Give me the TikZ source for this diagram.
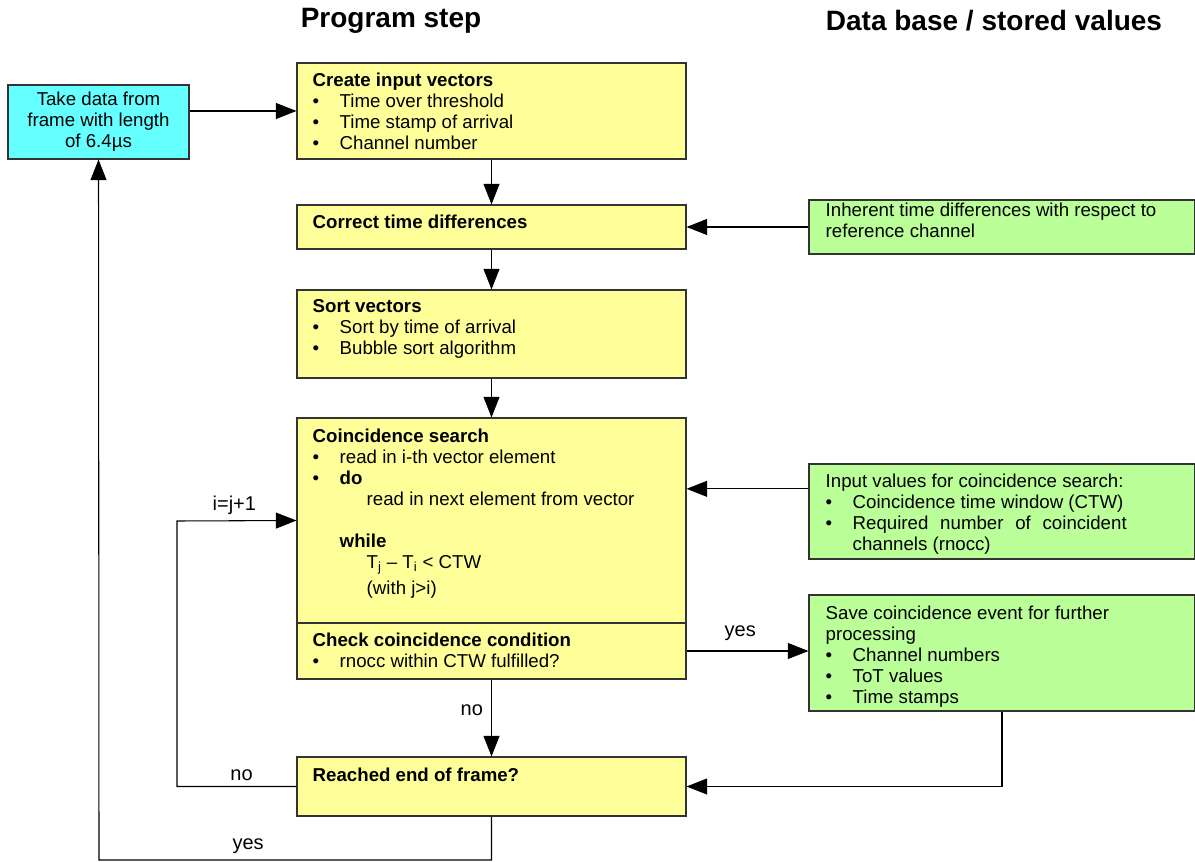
\documentclass[tikz,border=0pt]{standalone}
\usepackage{fontspec}
\setmainfont{Liberation Sans}
\usetikzlibrary{arrows.meta,positioning,fit}

\definecolor{stepfill}{HTML}{FFFF99}
\definecolor{framefill}{HTML}{66FFFF}
\definecolor{storefill}{HTML}{BBFF99}
\newcommand{\itm}{\makebox[20.25pt][l]{\textbullet}}
\newcommand{\ind}{\hspace*{20.25pt}}

\begin{document}
\begin{tikzpicture}[
    x=0.75pt, y=-0.75pt,
    >={Triangle[length=15.5pt,width=12pt]},
    box/.style={draw=black!80, line width=0.8pt, inner sep=0pt},
    stepbox/.style={box, fill=stepfill},
    storebox/.style={box, fill=storefill},
    txt/.style={inner sep=0pt, anchor=north west, align=left,
                font=\fontsize{14pt}{15.75pt}\selectfont},
    head/.style={font=\fontsize{21pt}{25pt}\selectfont\bfseries},
    lbl/.style={font=\fontsize{15pt}{18pt}\selectfont, inner sep=0pt},
    link/.style={->, line width=0.8pt},
  ]
  \useasboundingbox (0,0) rectangle (1195,862);

  % headings
  \node[head] (hprog) at (391,21) {Program step};
  \node[head] (hdata) at (994,21) {Data base / stored values};

  % frame source
  \node[box, fill=framefill, fit={(8,85)(189,159)}] (take) {};
  \node[txt, anchor=center, align=center] (ttake) at (take.center)
        {Take data from\\frame with length\\of 6.4µs};

  % program steps
  \node[stepbox, fit={(297,63)(686,159)}] (create) {};
  \node[stepbox, fit={(297,205)(686,249)}] (correct) {};
  \node[stepbox, fit={(297,290)(686,378)}] (sort) {};
  \node[stepbox, fit={(297,418)(686,623)}] (coinc) {};
  \node[stepbox, fit={(297,623)(686,679)}] (check) {};
  \node[stepbox, fit={(297,757)(686,816)}] (reached) {};

  \node[txt] (tcreate) at ([shift={(16,10)}]create.north west)
    {\textbf{Create input vectors}\\ \itm Time over threshold\\
     \itm Time stamp of arrival\\ \itm Channel number};
  \node[txt] (tcorrect) at ([shift={(16,10)}]correct.north west)
    {\textbf{Correct time differences}};
  \node[txt] (tsort) at ([shift={(16,10)}]sort.north west)
    {\textbf{Sort vectors}\\ \itm Sort by time of arrival\\ \itm Bubble sort algorithm};
  \node[txt] (tcoinc) at ([shift={(16,11)}]coinc.north west)
    {\textbf{Coincidence search}\\ \itm read in i-th vector element\\
     \itm\textbf{do}\\ \ind\ind read in next element from vector\\[15.75pt]
     \ind\textbf{while}\\ \ind\ind T\textsubscript{j} – T\textsubscript{i} < CTW\\[4pt]
     \ind\ind (with j>i)};
  \node[txt] (tcheck) at ([shift={(16,10)}]check.north west)
    {\textbf{Check coincidence condition}\\ \itm rnocc within CTW fulfilled?};
  \node[txt] (treached) at ([shift={(16,11)}]reached.north west)
    {\textbf{Reached end of frame?}};

  % stored values
  \node[storebox, fit={(809,200)(1195,254)}] (inherent) {};
  \node[storebox, fit={(809,464)(1195,559)}] (inputs) {};
  \node[storebox, fit={(809,595)(1195,711)}] (save) {};

  \node[txt] (tinherent) at ([shift={(17,3.5)}]inherent.north west)
    {Inherent time differences with respect to\\ reference channel};
  \node[txt] (tinputs) at ([shift={(17,10)}]inputs.north west)
    {Input values for coincidence search:\\ \itm Coincidence time window (CTW)\\
     \itm\makebox[205.5pt][s]{Required number of coincident}\\ \ind channels (rnocc)};
  \node[txt] (tsave) at ([shift={(17,11)}]save.north west)
    {Save coincidence event for further\\ processing\\ \itm Channel numbers\\
     \itm ToT values\\ \itm Time stamps};

  % connectors
  \coordinate (loop) at (177,521);
  \coordinate (back) at (99,860);
  \draw[link] (take.east |- create.west) -- (create.west);
  \draw[link] (create) -- (correct);
  \draw[link] (correct) -- (sort);
  \draw[link] (sort) -- (coinc);
  \draw[link] (check) -- node[lbl, left=6pt, pos=0.4] (lno) {no} (reached);
  \draw[link] (inherent) -- (correct);
  \draw[link] ([yshift=17pt]inputs.west) coordinate (inp) -- (inp -| coinc.east);
  \draw[link] (check) -- node[lbl, above=7pt, pos=0.44] (lyes) {yes} (check -| save.west);
  \draw[link] (save.south) |- (reached.east);
  \draw[link] (reached.west) -- node[lbl, above=4pt, pos=0.46] (lagain) {no} (reached.west -| loop)
    -- (loop) -- node[lbl, above=4pt, pos=0.48] (lidx) {i=j+1} (coinc.west);
  \draw[link] (reached.south) |- node[lbl, above=4pt, pos=0.81] (ldone) {yes} (back) -- (take.south);
\end{tikzpicture}
\end{document}
